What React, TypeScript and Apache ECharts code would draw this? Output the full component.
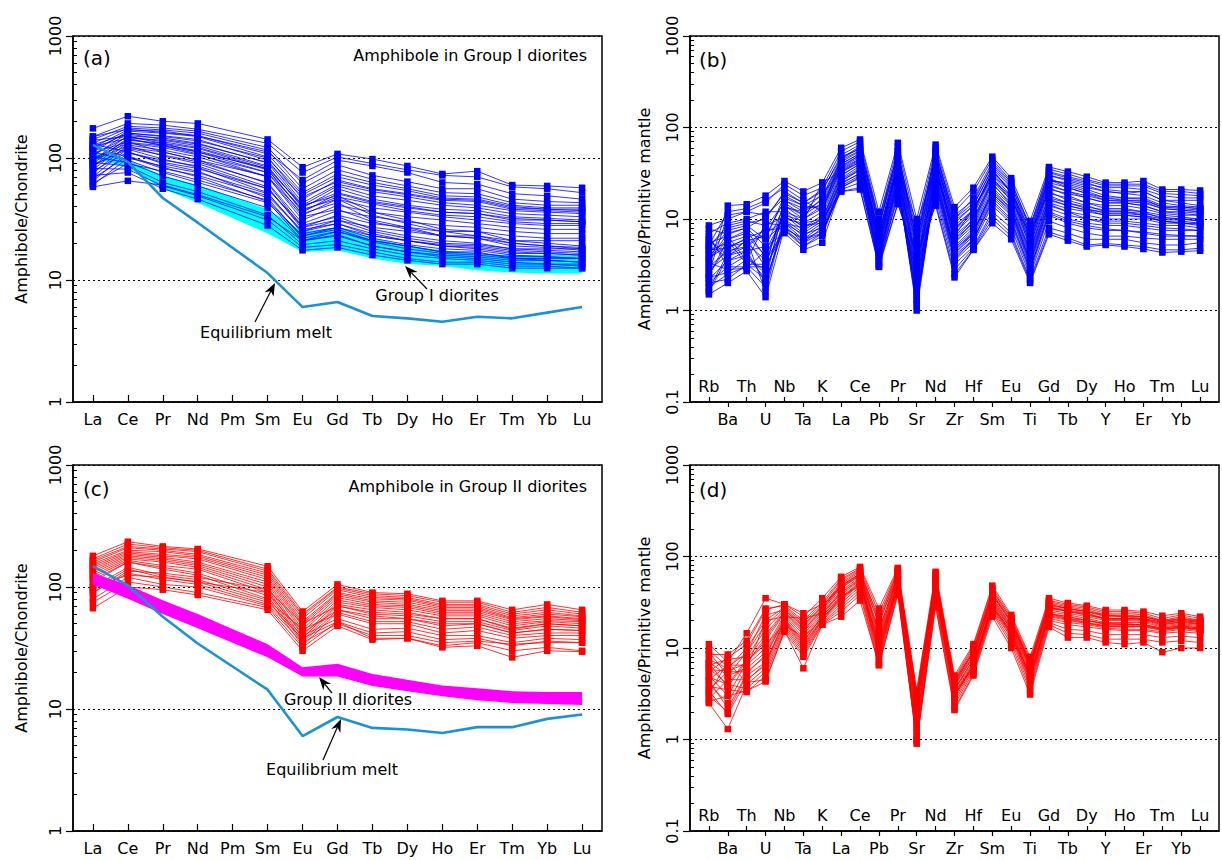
import React, { useEffect, useRef } from 'react';
import * as echarts from 'echarts';

const FONT = 'DejaVu Sans, Liberation Sans, Arial, sans-serif';

// ---------- categories ----------
const REE = ['La', 'Ce', 'Pr', 'Nd', 'Pm', 'Sm', 'Eu', 'Gd', 'Tb', 'Dy', 'Ho', 'Er', 'Tm', 'Yb', 'Lu'];
// measured REE (Pm not analysed) -> position on the REE axis
const REE_X = [0, 1, 2, 3, 5, 6, 7, 8, 9, 10, 11, 12, 13, 14];
const SPIDER = ['Rb', 'Ba', 'Th', 'U', 'Nb', 'Ta', 'K', 'La', 'Ce', 'Pb', 'Pr', 'Sr', 'Nd', 'Zr', 'Hf', 'Sm', 'Eu', 'Ti', 'Gd', 'Tb', 'Dy', 'Y', 'Ho', 'Er', 'Tm', 'Yb', 'Lu'];

// ---------- (a) amphibole in Group I diorites, chondrite-normalised ----------
const amphIRee: number[][] = [
  [175, 220, 200, 192, 142, 84, 108, 98, 86, 74, 78, 60, 59, 57],
  [150, 192, 186, 172, 132, 76, 102, 90, 80, 72, 70, 58, 56, 52],
  [142, 182, 176, 166, 122, 62, 88, 72, 64, 56, 56, 46, 44, 43],
  [132, 176, 170, 160, 116, 56, 80, 67, 59, 52, 51, 43, 41, 41],
  [122, 170, 166, 152, 108, 52, 74, 63, 56, 49, 48, 41, 39, 39],
  [112, 166, 160, 150, 102, 46, 66, 56, 51, 46, 45, 39, 38, 37],
  [104, 160, 152, 142, 96, 43, 61, 53, 48, 43, 41, 37, 36, 35],
  [96, 152, 146, 132, 91, 41, 59, 49, 45, 41, 39, 35, 34, 33],
  [90, 146, 140, 126, 86, 39, 56, 46, 41, 38, 37, 33, 32, 31],
  [86, 140, 132, 120, 81, 36, 51, 43, 39, 36, 35, 31, 31, 30],
  [80, 134, 126, 112, 76, 34, 46, 39, 36, 33, 31, 29, 28, 28],
  [75, 128, 116, 102, 70, 31, 41, 36, 33, 31, 29, 27, 26, 26],
  [70, 120, 106, 93, 63, 29, 37, 33, 30, 28, 27, 25, 24, 24],
  [65, 110, 96, 86, 56, 27, 34, 29, 27, 25, 25, 23, 22, 22],
  [60, 100, 86, 76, 51, 25, 31, 27, 25, 23, 23, 21, 21, 21],
  [58, 65, 60, 50, 33, 21, 25, 21, 19, 17, 17, 15, 15, 15],
  [130, 112, 92, 82, 56, 28, 33, 26, 23, 21, 20, 18, 18, 18],
  [122, 102, 82, 72, 49, 25, 29, 23, 21, 19, 18, 16.5, 16.5, 16],
  [112, 96, 76, 63, 43, 23, 26, 21, 19, 17, 16.5, 15.5, 15.5, 15],
  [102, 92, 71, 59, 39, 21, 23, 19, 17, 16, 15.5, 14.5, 14.5, 14],
  [92, 86, 63, 53, 34, 19.5, 21, 18, 16, 15, 14.5, 13.5, 13.5, 13],
  [82, 81, 59, 49, 31, 18.5, 19.5, 17, 15, 14, 14, 13, 13, 12.5],
  [72, 76, 56, 46, 28, 17.5, 18.5, 16, 14.5, 13.5, 13.5, 12.5, 12.5, 12.5],
  [140, 150, 132, 112, 82, 41, 49, 36, 31, 26, 25, 21, 20, 19],
  [100, 132, 122, 106, 76, 38, 46, 34, 29, 25, 23, 20, 19, 18],
  [86, 122, 112, 96, 71, 35, 43, 31, 27, 23, 22, 19, 18.5, 17.5],
  [150, 172, 162, 152, 112, 66, 96, 86, 76, 63, 61, 51, 49, 46],
  [118, 160, 150, 138, 100, 50, 70, 60, 54, 47, 46, 40, 38, 38],
  [95, 142, 128, 115, 80, 37, 48, 42, 37, 34, 33, 30, 29, 29],
  [128, 158, 142, 130, 92, 48, 64, 55, 50, 45, 44, 38, 37, 36],
  [88, 118, 98, 84, 52, 24, 27, 22, 19.5, 18, 17.5, 16, 15.5, 15],
  [78, 112, 90, 78, 47, 22, 25, 20.5, 18, 16.5, 16, 15, 14.5, 14],
  [68, 104, 84, 70, 44, 21, 23.5, 19, 17, 15.5, 15, 14, 13.5, 13.5],
  [110, 136, 112, 96, 62, 27, 31, 25, 22, 20, 19.5, 18, 17.5, 17],
  [96, 126, 104, 90, 58, 26, 29, 24, 21, 19, 18.5, 17, 16.5, 16],
  [62, 90, 78, 66, 45, 23, 27, 23, 21, 19.5, 19, 17.5, 17, 16.5],
  [125, 145, 126, 108, 70, 33, 38, 30, 26, 23, 22, 20, 19, 18.5],
  [106, 150, 136, 122, 84, 40, 52, 44, 40, 36, 35, 32, 31, 30],
];
const groupIFieldLow = [100, 84, 56, 43, 24, 17, 17.5, 15, 13.5, 13, 12, 11.5, 11.3, 11.3];
const groupIFieldHigh = [112, 96, 72, 60, 38, 25, 27, 22, 19, 17.5, 16.5, 16, 16, 16];
const meltI = [128, 93, 47, 29.5, 11.4, 6.0, 6.6, 5.07, 4.85, 4.55, 5.0, 4.85, 5.4, 6.0];

// ---------- (b) amphibole in Group I diorites, primitive-mantle-normalised ----------
const amphISpider: number[][] = [
  [3, 14, 14.5, 18, 26, 20, 25, 60, 74, 12, 68, 10, 65, 13.5, 22, 48, 28, 9.5, 37, 33, 29, 25, 25, 26, 21, 21, 20.5],
  [8.5, 10, 12, 15, 24, 18, 22, 55, 70, 10, 62, 8, 60, 12, 20, 45, 26, 8, 35, 31, 27, 24, 24, 24, 20, 20, 19],
  [5, 8, 9, 10, 20, 15, 20, 50, 65, 9, 55, 6, 55, 10, 15, 40, 24, 7, 32, 28, 25, 21, 20, 20, 16, 15, 14],
  [4, 6, 7, 6, 18, 14, 18, 45, 60, 8, 50, 5, 50, 9, 14, 36, 22, 6.5, 30, 26, 23, 20, 19, 18, 15, 14, 13.5],
  [2.5, 5, 6, 3, 16, 12, 16, 42, 55, 7, 45, 4, 45, 8, 12, 32, 20, 6, 27, 24, 21, 18, 17, 17, 14, 13.5, 13],
  [6, 4, 5, 8, 15, 11, 15, 40, 52, 6.5, 42, 3.5, 42, 7, 11, 30, 18, 5.5, 25, 22, 19, 17, 16, 16, 13.5, 13, 12.5],
  [3.5, 7, 8, 5, 14, 10, 14, 38, 50, 6, 40, 3, 40, 6.5, 10, 28, 17, 5, 23, 20, 18, 16, 15.5, 15, 13, 12.5, 12],
  [2, 3, 4, 2.5, 13, 9, 12, 36, 48, 5.5, 38, 2.5, 38, 6, 9, 26, 16, 4.5, 21, 19, 17, 15, 15, 14, 12, 12, 11.5],
  [7, 9, 10, 12, 12, 8, 11, 34, 45, 5, 35, 2, 35, 5.5, 8.5, 24, 15, 4.2, 19, 17, 15, 14, 14, 13, 11.5, 11, 11],
  [1.8, 2.5, 3, 1.8, 11, 7.5, 10, 32, 42, 4.5, 32, 1.8, 32, 5, 8, 22, 14, 4, 17, 15, 13.5, 12.5, 12.5, 12, 11, 10.5, 10],
  [4.5, 5.5, 6.5, 4, 10, 7, 9.5, 30, 40, 4.2, 30, 1.5, 30, 4.8, 7.5, 20, 13, 3.8, 16, 14, 12.5, 12, 12, 11, 10, 10, 9.5],
  [3, 4.5, 5, 7, 9.5, 6.5, 9, 28, 38, 4, 28, 1.3, 28, 4.5, 7, 19, 12, 3.5, 15, 13, 12, 11, 11, 10.5, 9.5, 9.5, 9],
  [2.2, 3.5, 4.5, 2, 9, 6, 8.5, 27, 36, 3.8, 26, 1.1, 26, 4.2, 6.5, 18, 11.5, 3.2, 14, 12, 11, 10, 10, 10, 9, 9, 8.5],
  [5.5, 6.5, 3.5, 9, 8.5, 5.5, 8, 26, 34, 3.6, 25, 1, 25, 4, 6, 17, 11, 3, 13, 11, 10, 9.5, 9.5, 9, 8.5, 8.5, 8],
  [1.5, 2, 2.7, 1.4, 8, 5, 7, 24, 32, 3.4, 23, 1.2, 23, 3.8, 5.8, 16, 10, 2.8, 12, 10, 9, 8.5, 8.5, 8, 7.5, 7.5, 7.5],
  [3.8, 5, 5.5, 3.5, 7.5, 5, 6.5, 23, 30, 3.2, 21, 1.5, 21, 3.5, 5.5, 14, 9, 2.6, 11, 9, 8, 7.5, 7.5, 7, 6.5, 6.5, 6.5],
  [2.8, 4, 4.5, 5, 7, 4.6, 5.5, 22, 28, 3, 19, 2, 19, 3.2, 5, 12, 8, 2.4, 9.5, 8, 7, 6.5, 6.5, 6.2, 6, 6, 6],
  [6.5, 3, 3, 3, 7.5, 5.5, 7, 21, 25, 3.5, 17, 2.5, 17, 2.8, 4.8, 11, 7, 2.2, 8, 7, 6, 6, 6, 5.5, 5.2, 5.2, 5.5],
  [2, 2.2, 3.2, 2.2, 8, 6, 7.5, 20, 22, 3.1, 15, 3, 15, 2.5, 4.6, 10, 6.5, 2.1, 7.2, 6.2, 5.2, 5.4, 5.2, 5, 4.6, 4.6, 4.8],
  [4.2, 7.5, 8.5, 6, 9, 8, 10, 20, 21, 3, 14.5, 4, 14, 2.3, 4.6, 9, 6, 2, 6.8, 5.8, 5, 5.2, 5, 4.7, 4.3, 4.4, 4.5],
  [2.6, 11, 12, 11, 17, 14, 13, 35, 46, 6, 38, 5, 40, 6.5, 13, 30, 20, 6, 26, 25, 22, 20, 19, 20, 16, 16, 16],
  [5.2, 12, 13, 16, 22, 16, 12, 48, 58, 10, 52, 7, 52, 11, 16, 38, 23, 8, 30, 27, 24, 22, 22, 21, 18, 17, 17],
  [1.6, 3.8, 6, 1.6, 10, 9, 10, 30, 40, 5, 34, 2.8, 34, 6, 10, 26, 18, 5, 22, 18, 15, 13, 13, 12, 10, 10, 10],
  [3.3, 2.8, 2.9, 4.5, 11, 9.5, 25, 33, 42, 7, 36, 9, 35, 7.5, 13, 28, 16, 7, 20, 16, 14, 12, 12, 11.5, 10.5, 10, 9.5],
  [2.4, 6, 7.5, 3.8, 12, 10, 13, 37, 50, 5.5, 44, 3.2, 44, 8.5, 12.5, 33, 21, 6.5, 28, 23, 20, 17, 17, 16.5, 13.5, 13.5, 13],
  [6, 3.5, 4, 2.2, 14, 11, 17, 44, 56, 8.5, 48, 4.5, 47, 9.5, 14, 35, 19, 5.5, 24, 20, 17, 15, 15, 14, 12, 11.5, 11],
  [1.7, 4.2, 5.8, 6.5, 16, 13, 14, 40, 52, 6.8, 46, 6, 48, 7.5, 11.5, 34, 20, 7.5, 27, 22, 19, 16, 16, 15.5, 13, 12.5, 12],
  [3.6, 5.8, 3.2, 3.2, 13.5, 12, 19, 33, 44, 5, 40, 2.2, 38, 5.5, 9.5, 25, 14, 4.5, 18, 15, 13, 11.5, 11.5, 11, 9.5, 9, 8.8],
  [5, 8.5, 9.5, 8.5, 10.5, 8.5, 9, 26, 35, 4.8, 30, 1.6, 31, 4.2, 7, 21, 13, 3.5, 16.5, 14, 12.5, 11, 11, 10.5, 9.5, 9, 9],
  [2.3, 2.6, 3.6, 2.8, 9, 6.8, 8, 22, 29, 3.8, 24, 1.3, 24, 3.6, 6, 15, 9.5, 2.8, 11.5, 9.5, 8.5, 7.8, 7.5, 7.2, 6.8, 6.6, 6.5],
  [7.8, 6.8, 8, 10.5, 19, 15, 21, 46, 62, 8, 56, 5.5, 56, 10, 17, 42, 25, 8.5, 33, 29, 26, 23, 23, 23, 19, 18.5, 18],
  [4.6, 4.8, 6.2, 7.5, 8, 6, 7, 25, 31, 4, 27, 3.5, 26, 4.6, 7.2, 19, 12.5, 3.3, 14.5, 12, 10, 9, 9, 8.5, 8, 7.8, 7.5],
];

// ---------- (c) amphibole in Group II diorites, chondrite-normalised ----------
const amphIIRee: number[][] = [
  [180, 235, 215, 205, 148, 63, 105, 90, 88, 77, 77, 65, 72, 65],
  [170, 225, 210, 200, 140, 60, 100, 88, 85, 75, 75, 62, 68, 62],
  [165, 215, 205, 195, 135, 58, 98, 85, 82, 72, 72, 60, 65, 60],
  [160, 210, 200, 185, 130, 55, 95, 82, 80, 70, 70, 58, 62, 58],
  [155, 200, 195, 180, 125, 52, 90, 80, 78, 68, 68, 56, 60, 57],
  [150, 195, 185, 175, 120, 50, 88, 77, 75, 66, 66, 55, 58, 55],
  [145, 190, 180, 170, 115, 48, 85, 75, 72, 64, 64, 54, 57, 54],
  [140, 185, 175, 160, 110, 45, 82, 72, 70, 62, 62, 52, 55, 53],
  [135, 180, 170, 155, 105, 43, 78, 70, 68, 60, 60, 50, 53, 52],
  [130, 175, 165, 150, 100, 40, 75, 68, 65, 58, 58, 48, 52, 50],
  [125, 170, 160, 145, 95, 38, 72, 65, 62, 55, 55, 46, 50, 48],
  [120, 165, 150, 140, 90, 36, 70, 60, 58, 52, 52, 44, 48, 46],
  [115, 160, 145, 130, 85, 35, 65, 55, 55, 48, 50, 42, 45, 44],
  [110, 160, 140, 125, 80, 33, 62, 52, 52, 45, 47, 40, 42, 42],
  [100, 145, 125, 115, 78, 45, 60, 50, 50, 42, 44, 38, 40, 40],
  [95, 140, 120, 110, 75, 40, 55, 45, 46, 40, 40, 35, 38, 37],
  [90, 130, 115, 105, 72, 38, 52, 42, 43, 37, 38, 33, 36, 35],
  [80, 120, 105, 100, 70, 35, 50, 40, 40, 35, 36, 34, 35, 35],
  [75, 110, 100, 90, 68, 32, 52, 38, 38, 33, 35, 30, 32, 30],
  [67, 100, 95, 86, 65, 30, 48, 37, 38, 32, 33, 26.5, 30, 29.5],
  [100, 125, 120, 110, 90, 42, 65, 58, 55, 50, 50, 42, 45, 44],
  [90, 135, 130, 120, 95, 50, 70, 62, 60, 55, 55, 45, 50, 48],
];
const groupIIFieldLow = [105, 80, 60, 46, 26.5, 18.5, 18.5, 15.4, 14, 12.7, 11.8, 11.2, 11, 10.8];
const groupIIFieldHigh = [130, 104, 78, 60, 34, 22, 23.5, 19.4, 17.4, 15.6, 14.8, 14, 13.8, 13.8];
const meltII = [148, 103, 57, 34.4, 14.4, 6.0, 8.6, 7.0, 6.8, 6.35, 7.1, 7.1, 8.3, 9.0];

// ---------- (d) amphibole in Group II diorites, primitive-mantle-normalised ----------
const amphIISpider: number[][] = [
  [11, 7, 14.5, 35, 30, 22, 35, 60, 77, 27, 75, 3.5, 68, 5, 11, 48, 23, 8, 35, 31, 29, 26, 26, 25, 22.5, 24, 22],
  [8.5, 8.5, 12, 27, 29, 20, 32, 57, 74, 24, 72, 3.2, 65, 4.7, 10.5, 45, 22, 7.5, 33, 30, 28, 25, 25, 24, 21, 23, 21],
  [7.5, 6, 10, 20, 28, 19, 30, 55, 72, 20, 70, 3, 62, 4.5, 10, 43, 21, 7, 32, 29, 27, 24, 24, 23, 20, 22, 20],
  [7, 5, 9, 18, 27, 18, 28, 52, 70, 18, 68, 2.8, 60, 4.3, 9.5, 40, 20, 6.8, 31, 28, 26, 23, 23, 22, 19.5, 21, 19.5],
  [6.5, 7.5, 8, 16, 26, 17, 27, 50, 68, 15, 65, 2.6, 58, 4.1, 9, 38, 19, 6.5, 30, 27, 25, 22, 22, 21, 19, 20, 19],
  [6, 4, 7.5, 14, 25, 16, 26, 48, 65, 13, 62, 2.4, 55, 4, 8.5, 36, 18, 6.2, 28, 26, 24, 21, 21, 20.5, 18.5, 19.5, 18.5],
  [5, 3, 7, 12, 24, 15, 25, 45, 62, 12, 60, 2.2, 52, 3.8, 8, 34, 17, 6, 27, 25, 23, 20.5, 20.5, 20, 18, 19, 18],
  [4.5, 6.5, 6.5, 10, 23, 14, 24, 42, 60, 11, 58, 2, 50, 3.6, 7.5, 33, 16.5, 5.7, 26, 24, 22, 20, 20, 19.5, 17.5, 18.5, 17.5],
  [4, 2.5, 6, 9, 22, 13, 23, 40, 58, 10, 55, 1.8, 48, 3.5, 7, 31, 16, 5.4, 25, 23, 21, 19, 19, 19, 17, 18, 17],
  [3.5, 5.5, 5.5, 8, 21, 12, 22, 38, 55, 9.5, 53, 1.6, 45, 3.3, 6.8, 30, 15, 5.1, 24, 22, 20, 18, 18, 18, 16.5, 17.5, 16.5],
  [3, 2, 5, 7, 20, 11, 21, 35, 52, 9, 50, 1.4, 42, 3.1, 6.5, 29, 14.5, 4.8, 23, 21, 19, 17.5, 17.5, 17.5, 16, 17, 16],
  [2.8, 4.5, 4.5, 6.5, 19, 10, 20.5, 33, 50, 8.5, 48, 1.2, 40, 3, 6.2, 28, 14, 4.5, 22, 20, 18.5, 17, 17, 17, 15.5, 16.5, 15.5],
  [2.5, 1.3, 4, 6, 18, 9.5, 20, 31, 47, 8, 46, 1.1, 38, 2.8, 6, 27, 13.5, 4.2, 21, 19, 18, 16.5, 16, 16, 15, 16, 15],
  [4.8, 4, 3.6, 5.5, 17, 9, 19, 29, 44, 7.5, 44, 1, 35, 2.6, 5.8, 26, 13, 4, 20, 18, 17, 16, 15.5, 15.5, 14.5, 15, 14.5],
  [3.8, 3.5, 3.3, 5, 16, 8.5, 18.5, 27, 41, 7, 42, 0.95, 33, 2.4, 5.5, 25, 12, 3.7, 19, 16, 15.5, 14, 14, 14, 13, 13.5, 13],
  [3.2, 7, 4.2, 4.5, 15, 8, 18, 25, 38, 6.5, 40, 0.9, 30, 2.2, 5.2, 24, 11, 3.4, 18, 14.5, 14, 12.5, 12.5, 12.5, 11.5, 12, 11.5],
  [2.6, 3, 3.4, 4.3, 15.5, 6, 18, 22, 33, 6.5, 38, 1, 28, 2.1, 5, 22, 10, 3.1, 17, 13, 13, 11.5, 11, 11.5, 9, 10, 10],
  [9, 5, 6, 20, 22, 21, 24, 40, 56, 16, 60, 2.5, 50, 3.5, 7.5, 38, 19, 6.5, 28, 25, 23, 21, 21, 21, 19, 20, 19],
  [5.5, 7.8, 11, 26, 30, 24, 30, 48, 65, 22, 68, 3, 58, 4.2, 9, 42, 21, 7, 30, 27, 25, 23, 22, 22, 20, 21, 20],
  [6.8, 3.8, 7.2, 11, 18, 13, 21, 36, 48, 12, 50, 2, 44, 3, 6.5, 32, 16, 5, 24, 21, 20, 18.5, 18, 18, 16, 17, 16],
  [9.5, 6.2, 8.8, 23, 26, 17.5, 29, 46, 62, 19, 62, 2.7, 56, 4.4, 9.2, 39, 19.5, 6.7, 29, 27, 25, 22.5, 22.5, 22, 19.5, 20.5, 19.5],
  [4.4, 2.2, 5.2, 8.5, 20.5, 11.5, 22.5, 36, 53, 10.5, 52, 1.5, 44, 3.2, 6.6, 29.5, 15, 4.9, 23.5, 22, 20, 18.5, 18.5, 18, 16.5, 17.5, 16.5],
  [5.8, 5.6, 6.8, 13, 24.5, 15.5, 26.5, 47, 64, 14, 61, 2.3, 54, 3.9, 8.2, 35, 17.5, 6.1, 27.5, 25.5, 23.5, 21, 21, 20.5, 18.2, 19.2, 18.2],
  [3.4, 1.9, 4.4, 6.8, 19.5, 10.5, 20.8, 34, 51, 8.8, 49, 1.3, 41, 3, 6.3, 28.5, 14.2, 4.6, 22.5, 20.5, 18.8, 17.2, 17.2, 17.2, 15.8, 16.8, 15.8],
];

// ---------- helpers ----------
const BLUE = '#0000ff';
const RED = '#ff0000';
const MELT = '#1b92d4';

const textStyle = { fontSize: 16, fontFamily: FONT, color: '#000' };

function logY(gridIndex: number, min: number, name: string, nameGap: number) {
  return {
    type: 'log', logBase: 10, gridIndex, min, max: 1000, position: 'left',
    name, nameLocation: 'middle', nameGap, nameRotate: 90, nameTextStyle: { ...textStyle },
    axisLine: { show: true, onZero: false, lineStyle: { color: '#000', width: 1.5 } },
    axisTick: { show: true, inside: false, length: 7, lineStyle: { color: '#000', width: 1.2 } },
    axisLabel: { ...textStyle, rotate: 90, margin: 10, formatter: (v: number) => String(Number(v.toPrecision(6))) },
    splitLine: { show: true, lineStyle: { color: '#000', width: 1.2, type: [2, 3] } },
    minorTick: { show: false }, minorSplitLine: { show: false },
  };
}
function minorY(gridIndex: number, decadeMin: number) {
  const vals: number[] = [];
  for (let d = decadeMin; d < 3; d++) for (let k = 2; k <= 9; k++) vals.push(d + Math.log10(k));
  return {
    type: 'value', gridIndex, min: decadeMin, max: 3, position: 'left',
    axisLine: { show: false, onZero: false }, axisLabel: { show: false }, splitLine: { show: false },
    axisTick: { show: true, inside: true, length: 4, customValues: vals, lineStyle: { color: '#000', width: 1 } },
  };
}
function reeX(gridIndex: number) {
  const idx = REE.map((_, i) => i);
  return {
    type: 'value', gridIndex, min: -0.57, max: 14.57, position: 'bottom',
    axisLine: { show: true, onZero: false, lineStyle: { color: '#000', width: 1.5 } },
    axisTick: { show: true, inside: true, length: 7, customValues: idx, lineStyle: { color: '#000', width: 1.2 } },
    axisLabel: { ...textStyle, customValues: idx, margin: 9, formatter: (v: number) => REE[Math.round(v)] },
    splitLine: { show: false },
  };
}
function spiderX(gridIndex: number, even: boolean) {
  const idx = SPIDER.map((_, i) => i).filter((i) => (i % 2 === 0) === even);
  return {
    type: 'value', gridIndex, min: -1, max: 27, position: 'bottom',
    axisLine: { show: even, onZero: false, lineStyle: { color: '#000', width: 1.5 } },
    axisTick: { show: true, inside: even, length: 5, customValues: idx, lineStyle: { color: '#000', width: 1.2 } },
    axisLabel: { ...textStyle, customValues: idx, inside: even, margin: even ? 8 : 9, formatter: (v: number) => SPIDER[Math.round(v)] },
    splitLine: { show: false },
  };
}

function lineSeries(rows: number[][], xs: number[], color: string, xAxisIndex: number, yAxisIndex: number) {
  return rows.map((row) => ({
    type: 'line', xAxisIndex, yAxisIndex, z: 3, silent: true,
    data: row.map((v, i) => [xs[i], v]),
    symbol: 'rect', symbolSize: 6.5, showSymbol: true,
    lineStyle: { width: 0.8, color }, itemStyle: { color },
  }));
}
function bandSeries(low: number[], high: number[], color: string, xAxisIndex: number, yAxisIndex: number, z: number) {
  return {
    type: 'custom', xAxisIndex, yAxisIndex, z, silent: true,
    data: [[REE_X[0], high[0]]],
    renderItem: (_p: any, api: any) => {
      const pts: number[][] = [];
      high.forEach((v, i) => pts.push(api.coord([REE_X[i], v])));
      for (let i = low.length - 1; i >= 0; i--) pts.push(api.coord([REE_X[i], low[i]]));
      return { type: 'polygon', shape: { points: pts }, style: { fill: color } };
    },
  };
}
function meltSeries(vals: number[], xAxisIndex: number, yAxisIndex: number) {
  return {
    type: 'line', xAxisIndex, yAxisIndex, z: 5, silent: true,
    data: vals.map((v, i) => [REE_X[i], v]),
    symbol: 'none', lineStyle: { width: 2.6, color: MELT },
  };
}

function arrow(tip: number[], tail: number[]) {
  const dx = tip[0] - tail[0], dy = tip[1] - tail[1];
  const len = Math.hypot(dx, dy);
  const ux = dx / len, uy = dy / len;
  const L = 13, W = 5;
  const bx = tip[0] - ux * L, by = tip[1] - uy * L;
  const nx = -uy, ny = ux;
  const notch = [tip[0] - ux * L * 0.7, tip[1] - uy * L * 0.7];
  return [
    { type: 'line', z: 100, shape: { x1: tail[0], y1: tail[1], x2: notch[0], y2: notch[1] }, style: { stroke: '#000', lineWidth: 1.2 } },
    { type: 'polygon', z: 100, shape: { points: [tip, [bx + nx * W, by + ny * W], notch, [bx - nx * W, by - ny * W]] }, style: { fill: '#000' } },
  ];
}
function label(text: string, x: number, y: number, align: string, size = 16) {
  return { type: 'text', z: 100, x, y, style: { text, fill: '#000', fontSize: size, fontFamily: FONT, align, verticalAlign: 'middle' } };
}

const gridBox = { show: true, borderColor: '#000', borderWidth: 1.5, backgroundColor: 'transparent' };

export default function App() {
  const ref = useRef<HTMLDivElement>(null);
  useEffect(() => {
    if (!ref.current) return;
    const chart = echarts.init(ref.current, null, { renderer: 'svg' });
    const spiderX_ = SPIDER.map((_, i) => i);
    const option: any = {
      animation: false,
      grid: [
        { left: 73, top: 36, width: 529, height: 366, ...gridBox },
        { left: 690, top: 36, width: 529, height: 366, ...gridBox },
        { left: 73, top: 465, width: 529, height: 366, ...gridBox },
        { left: 690, top: 465, width: 529, height: 366, ...gridBox },
      ],
      xAxis: [reeX(0), spiderX(1, true), spiderX(1, false), reeX(2), spiderX(3, true), spiderX(3, false)],
      yAxis: [
        logY(0, 1, 'Amphibole/Chondrite', 44), minorY(0, 0),
        logY(1, 0.1, 'Amphibole/Primitive mantle', 38), minorY(1, -1),
        logY(2, 1, 'Amphibole/Chondrite', 44), minorY(2, 0),
        logY(3, 0.1, 'Amphibole/Primitive mantle', 38), minorY(3, -1),
      ],
      series: [
        bandSeries(groupIFieldLow, groupIFieldHigh, '#00ffff', 0, 0, 1),
        ...lineSeries(amphIRee, REE_X, BLUE, 0, 0),
        meltSeries(meltI, 0, 0),
        ...lineSeries(amphISpider, spiderX_, BLUE, 1, 2),
        ...lineSeries(amphIIRee, REE_X, RED, 3, 4),
        bandSeries(groupIIFieldLow, groupIIFieldHigh, '#ff00ff', 3, 4, 4),
        meltSeries(meltII, 3, 4),
        ...lineSeries(amphIISpider, spiderX_, RED, 4, 6),
      ],
      graphic: [
        label('(a)', 83, 58, 'left', 20),
        label('Amphibole in Group I diorites', 587, 55, 'right'),
        label('Group I diorites', 437, 295, 'center'),
        ...arrow([405, 266], [427, 289]),
        label('Equilibrium melt', 266, 332, 'center'),
        ...arrow([275, 283], [255, 322]),
        label('(b)', 699, 60, 'left', 20),
        label('(c)', 83, 489, 'left', 20),
        label('Amphibole in Group II diorites', 587, 486, 'right'),
        label('Group II diorites', 348, 699, 'center'),
        ...arrow([319, 677], [332, 693]),
        label('Equilibrium melt', 332, 769, 'center'),
        ...arrow([341, 719], [323, 760]),
        label('(d)', 699, 490, 'left', 20),
      ],
    };
    chart.setOption(option);
    return () => chart.dispose();
  }, []);
  return <div ref={ref} style={{ position: 'fixed', left: 0, top: 0, width: 1222, height: 860, background: '#fff' }} />;
}
